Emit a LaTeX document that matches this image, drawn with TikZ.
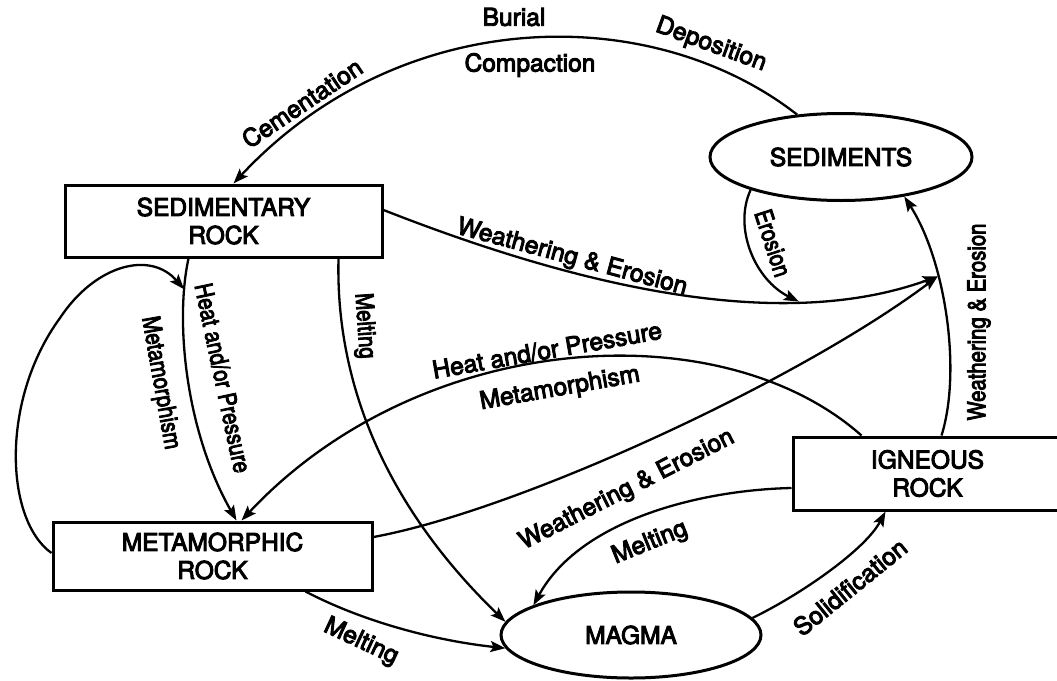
\documentclass[tikz,border=0pt]{standalone}
\usepackage{fontspec}
\newfontfamily\dgfont{TeX Gyre Heros}[FakeBold=4]
\usetikzlibrary{arrows.meta,shapes.geometric}
\newcommand\vsq[1]{\scalebox{0.83}[1]{#1}}
\tikzset{
  box/.style={draw, line width=3pt, align=center, inner sep=0pt,
    font=\dgfont\fontsize{24.5}{28}\selectfont},
  oval/.style={draw, ellipse, line width=3pt, inner sep=0pt,
    font=\dgfont\fontsize{24.5}{28}\selectfont},
  lab/.style={inner sep=0pt, font=\dgfont\fontsize{24.5}{28}\selectfont},
  edge/.style={line width=2.3pt, -{Stealth[length=15pt,width=11pt,inset=3pt]}},
}
\begin{document}
\begin{tikzpicture}[x=1pt,y=-1pt]
\useasboundingbox (0,0) rectangle (1057,680);
\clip (0,0) rectangle (1057,680);
% nodes
\node[box, minimum width=317pt, minimum height=72pt] (sr) at (223.5,221) {SEDIMENTARY\\ROCK};
\node[box, minimum width=319pt, minimum height=68pt] (mr) at (212.5,556) {METAMORPHIC\\ROCK};
\node[box, minimum width=269pt, minimum height=73pt] (ig) at (927.5,473.5) {IGNEOUS\\ROCK};
\node[oval, minimum width=262pt, minimum height=87pt] (sed) at (841,157) {SEDIMENTS};
\node[oval, minimum width=260pt, minimum height=86pt] (mag) at (631,635) {MAGMA};
% connectors
\draw[edge] ([xshift=150pt]ig.north west) .. controls (962,370) and (945,260) .. coordinate[pos=0.65] (jn) (sed.328);
\draw[edge] ([yshift=11pt]sr.east) .. controls (600,295) and (790,330) .. coordinate[pos=0.71] (ej) (jn);
\draw[edge] (sed.200) .. controls (733,228) and (755,280) .. (ej);
\draw[edge] ([yshift=19pt]mr.east) .. controls (520,510) and (800,380) .. (jn);
\draw[edge] ([xshift=125pt]sr.south west) .. controls (175,320) and (185,430) .. coordinate[pos=0.15] (hp) ([xshift=185pt]mr.north west);
\draw[edge] ([yshift=3pt]mr.west) .. controls (5,520) and (0,400) .. (60,318) .. controls (95,265) and (150,250) .. (hp);
\draw[edge] ([xshift=275pt]sr.south west) .. controls (335,400) and (400,520) .. (mag.174);
\draw[edge] ([xshift=70pt]ig.north west) .. controls (720,310) and (420,330) .. ([xshift=190pt]mr.north west);
\draw[edge] ([xshift=254pt]mr.south west) .. controls (360,620) and (430,640) .. (mag.186);
\draw[edge] ([yshift=-14.5pt]ig.west) .. controls (700,490) and (580,520) .. (mag.163);
\draw[edge] (mag.8) .. controls (800,595) and (865,550) .. ([xshift=94pt]ig.south west);
\draw[edge] (sed.136) .. controls (650,0) and (400,5) .. ([xshift=170pt]sr.north west);
% labels
\node[lab] (lbur) at (514,17) {Burial};
\node[lab] (lcom) at (530,65) {Compaction};
\node[lab, rotate=-20] (ldep) at (711,45) {Deposition};
\node[lab, rotate=34] (lcem) at (302,103) {Cementation};
\node[lab, rotate=-15] (lwe1) at (572,258) {Weathering \& Erosion};
\node[lab, rotate=-72] (lero) at (773,243) {\vsq{Erosion}};
\node[lab, rotate=90] (lwe2) at (979,322) {\vsq{Weathering \& Erosion}};
\node[lab, rotate=-78] (lhp1) at (223,378) {\vsq{Heat and/or Pressure}};
\node[lab, rotate=-80] (lmet1) at (160,383) {\vsq{Metamorphism}};
\node[lab, rotate=-86] (lmel1) at (364,326) {\vsq{Melting}};
\node[lab, rotate=10] (lhp2) at (547,350) {Heat and/or Pressure};
\node[lab, rotate=10] (lmet2) at (560,389) {Metamorphism};
\node[lab, rotate=27] (lwe3) at (627,490) {Weathering \& Erosion};
\node[lab, rotate=22] (lmel2) at (650,543) {Melting};
\node[lab, rotate=39] (lsol) at (850,587) {Solidification};
\node[lab, rotate=-25] (lmel3) at (361,642) {Melting};
\end{tikzpicture}
\end{document}
